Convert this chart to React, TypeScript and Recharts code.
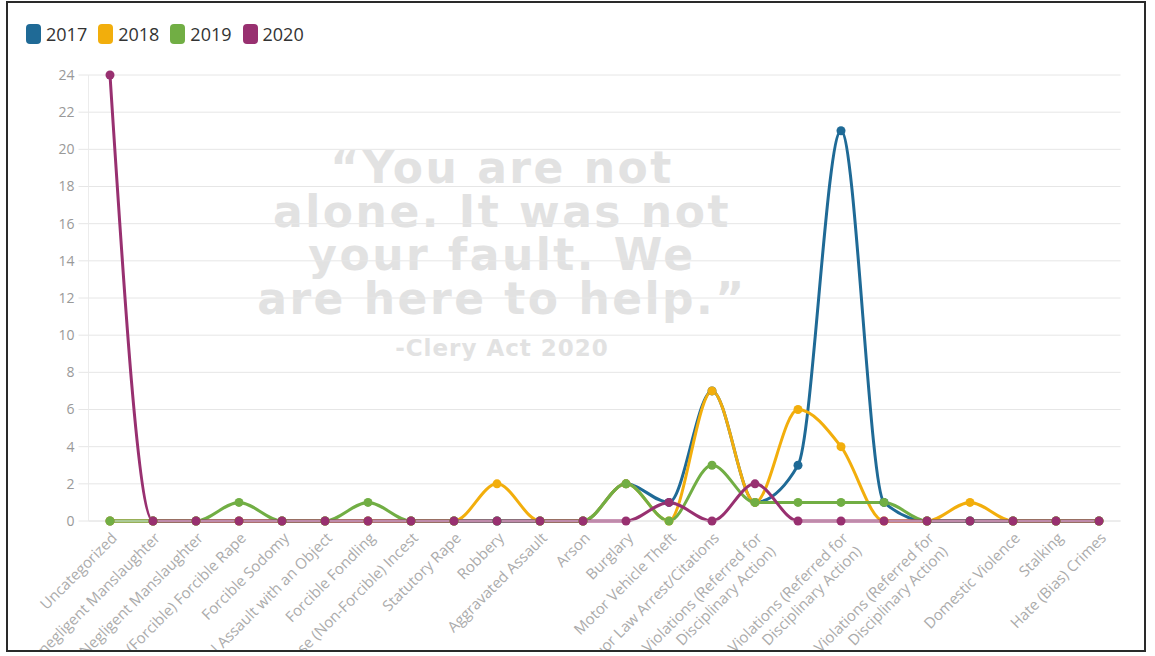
import React from 'react'
import { LineChart, Line, XAxis, YAxis, CartesianGrid, Legend } from 'recharts'

const categories = [
  'Uncategorized',
  'Murder/Non-negligent Manslaughter',
  'Negligent Manslaughter',
  'Sex Offenses (Forcible) Forcible Rape',
  'Forcible Sodomy',
  'Sexual Assault with an Object',
  'Forcible Fondling',
  'Sex Offense (Non-Forcible) Incest',
  'Statutory Rape',
  'Robbery',
  'Aggravated Assault',
  'Arson',
  'Burglary',
  'Motor Vehicle Theft',
  'Liquor Law Arrest/Citations',
  'Liquor Law Violations (Referred for Disciplinary Action)',
  'Drug Law Arrest/Citations',
  'Drug Law Violations (Referred for Disciplinary Action)',
  'Weapons Law Arrest/Citations',
  'Weapons Law Violations (Referred for Disciplinary Action)',
  'Dating Violence',
  'Domestic Violence',
  'Stalking',
  'Hate (Bias) Crimes',
]

// labels the original chart dropped because they overlapped the two-line ones
const hiddenTicks = [16, 18, 20]

const y2017 = [0, 0, 0, 0, 0, 0, 0, 0, 0, 0, 0, 0, 2, 1, 7, 1, 3, 21, 1, 0, 0, 0, 0, 0]
const y2018 = [0, 0, 0, 0, 0, 0, 0, 0, 0, 2, 0, 0, 2, 0, 7, 1, 6, 4, 0, 0, 1, 0, 0, 0]
const y2019 = [0, 0, 0, 1, 0, 0, 1, 0, 0, 0, 0, 0, 2, 0, 3, 1, 1, 1, 1, 0, 0, 0, 0, 0]
const y2020 = [24, 0, 0, 0, 0, 0, 0, 0, 0, 0, 0, 0, 0, 1, 0, 2, 0, 0, 0, 0, 0, 0, 0, 0]

const seriesNames = ['2017', '2018', '2019', '2020']
const seriesColors = ['#1f6a96', '#f2ae0c', '#71ae44', '#983070']
const yTicks = [0, 2, 4, 6, 8, 10, 12, 14, 16, 18, 20, 22, 24]

const quoteLines = ['\u201CYou are not', 'alone. It was not', 'your fault. We', 'are here to help.\u201D']

const data = categories.map((name, i) => ({
  name,
  '2017': y2017[i],
  '2018': y2018[i],
  '2019': y2019[i],
  '2020': y2020[i],
}))

const CategoryTick = (props: any) => {
  const { x, y, payload } = props
  if (hiddenTicks.includes(payload.index)) return null
  const label = String(payload.value)
  const lines = label.includes(' Disciplinary Action)')
    ? [label.replace(' Disciplinary Action)', ''), 'Disciplinary Action)']
    : [label]
  return (
    <g transform={`translate(${x + 8},${y + 18})`}>
      <text transform="rotate(-45)" textAnchor="end" fill="#ababab" fontSize={15} fontFamily="Open Sans">
        {lines.map((l, i) => (
          <tspan key={i} x={0} dy={i === 0 ? 0 : 19}>{l}</tspan>
        ))}
      </text>
    </g>
  )
}

const renderLegend = () => (
  <div style={{ display: 'flex', alignItems: 'center', fontFamily: 'Open Sans', fontSize: 18, color: '#333' }}>
    {seriesNames.map((n, i) => (
      <div key={n} style={{ display: 'flex', alignItems: 'center', marginRight: 11 }}>
        <span style={{ width: 15, height: 20, borderRadius: 4, background: seriesColors[i], marginRight: 5, display: 'inline-block' }} />
        <span>{n}</span>
      </div>
    ))}
  </div>
)

export default function App() {
  return (
    <div style={{ position: 'fixed', left: 0, top: 0, width: 1155, height: 656, background: '#fff', overflow: 'hidden' }}>
      <div
        style={{
          position: 'absolute',
          left: 6,
          top: 1,
          width: 1140,
          height: 651,
          boxSizing: 'border-box',
          border: '2px solid #2a2a2a',
          overflow: 'hidden',
        }}
      >
        {/* watermark quote sits behind the chart */}
        <svg width={1155} height={656} style={{ position: 'absolute', left: -8, top: -3 }}>
          {quoteLines.map((l, i) => (
            <text
              key={i}
              x={502}
              y={183 + i * 43.5}
              textAnchor="middle"
              fontFamily="DejaVu Sans"
              fontWeight="bold"
              fontSize={44}
              letterSpacing={2.5}
              fill="#e2e2e2"
            >
              {l}
            </text>
          ))}
          <text x={502} y={356} textAnchor="middle" fontFamily="DejaVu Sans" fontWeight="bold" fontSize={23} letterSpacing={1} fill="#e2e2e2">
            -Clery Act 2020
          </text>
        </svg>
        <div style={{ position: 'absolute', left: -8, top: -3 }}>
          <LineChart
            width={1155}
            height={654}
            data={data}
            margin={{ top: 75, right: 34.5, left: 18.5, bottom: 0 }}
          >
            <CartesianGrid horizontal vertical={false} stroke="#e6e6e6" />
            <XAxis
              dataKey="name"
              interval={0}
              height={133}
              padding={{ left: 21.5, right: 21.5 }}
              tickLine={false}
              tickSize={0}
              tickMargin={0}
              axisLine={{ stroke: '#e6e6e6' }}
              tick={<CategoryTick />}
            />
            <YAxis
              width={70}
              domain={[0, 24]}
              ticks={yTicks}
              interval={0}
              tickSize={10}
              tickMargin={4}
              tickLine={{ stroke: '#e6e6e6' }}
              axisLine={{ stroke: '#ececec' }}
              tick={{ fill: '#999', fontSize: 14, fontFamily: 'Open Sans' }}
            />
            <Legend
              layout="horizontal"
              verticalAlign="middle"
              align="center"
              wrapperStyle={{ position: 'absolute', top: 22, left: 26, width: 'auto', height: 'auto' }}
              content={renderLegend}
            />
            {seriesNames.map((n, i) => (
              <Line
                key={n}
                type="monotone"
                dataKey={n}
                name={n}
                stroke={seriesColors[i]}
                strokeWidth={3}
                dot={{ r: 4.5, fill: seriesColors[i], stroke: seriesColors[i], strokeWidth: 0 }}
                activeDot={false}
                isAnimationActive={false}
              />
            ))}
          </LineChart>
        </div>
      </div>
    </div>
  )
}
